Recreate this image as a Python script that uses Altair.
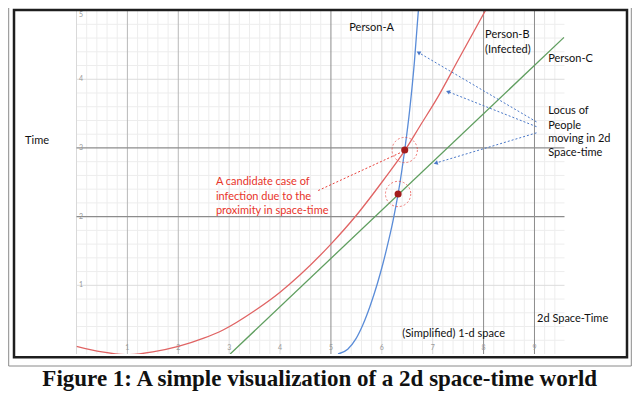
import altair as alt
import pandas as pd
import numpy as np

# ---------------- data ----------------
blue_x = [5.14, 5.33, 5.49, 5.63, 5.77, 5.91, 6.02, 6.12, 6.22, 6.32, 6.45, 6.55, 6.64, 6.72]
blue_y = [0.0, 0.07, 0.22, 0.43, 0.70, 1.02, 1.31, 1.61, 1.94, 2.33, 2.97, 3.57, 4.25, 5.02]

red_x = [0.0, 0.5, 1.0, 1.5, 2.0, 2.5, 2.88, 3.5, 4.0, 4.39, 5.0, 5.5, 6.03, 6.45, 6.75, 7.1, 7.5, 8.05]
red_y = [0.11, 0.03, -0.01, 0.03, 0.11, 0.23, 0.35, 0.63, 0.90, 1.15, 1.60, 2.02, 2.53, 2.96, 3.32, 3.74, 4.28, 5.02]

green_x = [3.02, 9.58]
green_y = [0.0, 4.61]

dot_x = [6.45, 6.32]
dot_y = [2.97, 2.33]

x_ticks = [1, 2, 3, 4, 5, 6, 7, 8, 9]
y_ticks = [1, 2, 3, 4, 5]
y_tick_pos = [1, 2, 3, 4, 4.93]

arrow_x1 = [9.04, 9.04, 9.04]
arrow_y1 = [3.38, 3.31, 3.22]
arrow_x2 = [6.72, 7.30, 7.06]
arrow_y2 = [4.39, 3.82, 2.78]
arrow_angle = [300, 292, 253]

leader_x = [4.75, 6.39]
leader_y = [2.38, 2.94]

black_labels = ["Person-A", "Person-B", "(Infected)", "Person-C", "Locus of", "People",
                "moving in 2d", "Space-time", "Time", "(Simplified) 1-d space", "2d Space-Time"]
black_x = [5.80, 8.03, 8.03, 9.27, 9.27, 9.27, 9.27, 9.27, -1.01, 7.41, 9.05]
black_y = [4.745, 4.64, 4.425, 4.30, 3.537, 3.319, 3.125, 2.921, 3.10, 0.291, 0.51]
black_align = ["center", "left", "left", "left", "left", "left", "left", "left", "left", "center", "left"]

red_labels = ["A candidate case of", "infection due to the", "proximity in space-time"]
red_lx = [2.74, 2.74, 2.74]
red_ly = [2.499, 2.281, 2.081]

title_text = "Figure 1: A simple visualization of a 2d space-time world"

# ---------------- grid positions ----------------
x_minor = [round(v, 1) for v in np.arange(0.2, 9.6, 0.2) if abs(v - round(v)) > 1e-6]
y_minor = [round(v, 1) for v in np.arange(0.2, 5.0, 0.2) if abs(v - round(v)) > 1e-6]
x_major_light = [0, 3, 4, 6, 7]
x_major_mid = [1, 2]
x_major_dark = [5, 8, 9]
y_major_light = [1, 4]
y_major_dark = [2, 3]

W, H = 488, 343.4
xs = alt.Scale(domain=[0, 9.59], nice=False, zero=False)
ys = alt.Scale(domain=[0, 5], nice=False, zero=False)


def vrules(vals, color, width=1.0):
    return alt.Chart(pd.DataFrame({"v": vals})).mark_rule(color=color, strokeWidth=width).encode(
        x=alt.X("v:Q", scale=xs, axis=None))


def hrules(vals, color, width=1.0):
    return alt.Chart(pd.DataFrame({"v": vals})).mark_rule(color=color, strokeWidth=width).encode(
        y=alt.Y("v:Q", scale=ys, axis=None))


def curve(xv, yv, color):
    return alt.Chart(pd.DataFrame({"x": xv, "y": yv})).mark_line(
        color=color, strokeWidth=1.3, clip=True, interpolate="monotone").encode(
        x=alt.X("x:Q", scale=xs, axis=None), y=alt.Y("y:Q", scale=ys, axis=None))


grid = [
    vrules(x_minor, "#ededed"), hrules(y_minor, "#ededed"),
    vrules(x_major_light, "#d9d9d9"), hrules(y_major_light, "#dcdcdc"),
    vrules(x_major_mid, "#b8b8b8"),
    vrules(x_major_dark, "#8c8c8c"), hrules(y_major_dark, "#8c8c8c", 1.2),
]

tick_x_df = pd.DataFrame({"v": x_ticks, "t": [str(v) for v in x_ticks], "y": [0.045] * len(x_ticks)})
tick_x = alt.Chart(tick_x_df).mark_text(fontSize=7, color="#9a9a9a", font="Lato", baseline="bottom").encode(
    x=alt.X("v:Q", scale=xs, axis=None), y=alt.Y("y:Q", scale=ys, axis=None), text="t:N")
tick_y_df = pd.DataFrame({"v": y_tick_pos, "t": [str(v) for v in y_ticks], "x": [0.05] * len(y_ticks)})
tick_y = alt.Chart(tick_y_df).mark_text(fontSize=7, color="#9a9a9a", font="Lato", align="left", baseline="middle").encode(
    x=alt.X("x:Q", scale=xs, axis=None), y=alt.Y("v:Q", scale=ys, axis=None), text="t:N")

lines = [curve(red_x, red_y, "#e06464"), curve(green_x, green_y, "#5f9e5f"), curve(blue_x, blue_y, "#5a8cd8")]

dots_df = pd.DataFrame({"x": dot_x, "y": dot_y})
rings = alt.Chart(dots_df).mark_point(shape="circle", size=640, color="#e8403a", strokeWidth=1,
                                      strokeDash=[2, 2], filled=False).encode(
    x=alt.X("x:Q", scale=xs, axis=None), y=alt.Y("y:Q", scale=ys, axis=None))
dots = alt.Chart(dots_df).mark_point(shape="circle", size=50, color="#a31d1d", filled=True, opacity=1).encode(
    x=alt.X("x:Q", scale=xs, axis=None), y=alt.Y("y:Q", scale=ys, axis=None))

leader = alt.Chart(pd.DataFrame({"x": [leader_x[0]], "y": [leader_y[0]], "x2": [leader_x[1]], "y2": [leader_y[1]]})).mark_rule(
    color="#e8403a", strokeWidth=1, strokeDash=[2, 2]).encode(
    x=alt.X("x:Q", scale=xs, axis=None), y=alt.Y("y:Q", scale=ys, axis=None), x2="x2:Q", y2="y2:Q")

arr_df = pd.DataFrame({"x": arrow_x1, "y": arrow_y1, "x2": arrow_x2, "y2": arrow_y2, "a": arrow_angle})
arrows = alt.Chart(arr_df).mark_rule(color="#4a78c8", strokeWidth=1, strokeDash=[2, 2]).encode(
    x=alt.X("x:Q", scale=xs, axis=None), y=alt.Y("y:Q", scale=ys, axis=None), x2="x2:Q", y2="y2:Q")
heads = alt.Chart(arr_df).mark_point(shape="triangle-up", size=22, filled=True, color="#4a78c8", opacity=1).encode(
    x=alt.X("x2:Q", scale=xs, axis=None), y=alt.Y("y2:Q", scale=ys, axis=None),
    angle=alt.Angle("a:Q", scale=None))

blk_df = pd.DataFrame({"t": black_labels, "x": black_x, "y": black_y, "al": black_align})
blk_left = alt.Chart(blk_df[blk_df.al == "left"]).mark_text(fontSize=11, font="Lato", color="#111111",
                                                          align="left", baseline="middle").encode(
    x=alt.X("x:Q", scale=xs, axis=None), y=alt.Y("y:Q", scale=ys, axis=None), text="t:N")
blk_center = alt.Chart(blk_df[blk_df.al == "center"]).mark_text(fontSize=11, font="Lato", color="#111111",
                                                              align="center", baseline="middle").encode(
    x=alt.X("x:Q", scale=xs, axis=None), y=alt.Y("y:Q", scale=ys, axis=None), text="t:N")
red_txt = alt.Chart(pd.DataFrame({"t": red_labels, "x": red_lx, "y": red_ly})).mark_text(
    fontSize=11, font="Lato", color="#e8342a", align="left", baseline="middle").encode(
    x=alt.X("x:Q", scale=xs, axis=None), y=alt.Y("y:Q", scale=ys, axis=None), text="t:N")

title = alt.Chart(pd.DataFrame({"t": [title_text], "x": [4.78], "y": [-0.46]})).mark_text(
    fontSize=23, font="Liberation Serif", fontWeight="bold", color="#111111", align="center",
    baseline="alphabetic").encode(
    x=alt.X("x:Q", scale=xs, axis=None), y=alt.Y("y:Q", scale=ys, axis=None), text="t:N")

# decorative frames (pixel positions in plot coordinates)
frame_df = pd.DataFrame({"k": [0]})
inner = alt.Chart(frame_df).mark_rect(fill="transparent", stroke="#1e1e1e", strokeWidth=2.5).encode(
    x=alt.value(-62.5), x2=alt.value(550.5), y=alt.value(-0.6), y2=alt.value(346.6))
outer_l = alt.Chart(frame_df).mark_rule(color="#8a8a8a", strokeWidth=1).encode(
    x=alt.value(-67.8), y=alt.value(-2.6), y2=alt.value(355.4))
outer_r = alt.Chart(frame_df).mark_rule(color="#8a8a8a", strokeWidth=1).encode(
    x=alt.value(554.8), y=alt.value(-2.6), y2=alt.value(355.4))
outer_b = alt.Chart(frame_df).mark_rule(color="#8a8a8a", strokeWidth=1).encode(
    x=alt.value(-67.8), x2=alt.value(554.8), y=alt.value(355.4))

chart = alt.layer(
    *grid, tick_x, tick_y, *lines, leader, arrows, heads, rings, dots,
    blk_left, blk_center, red_txt, title, inner, outer_l, outer_r, outer_b
).properties(
    width=W, height=H, autosize="none",
    padding={"left": 68.5, "top": 2.6, "right": 67.5, "bottom": 40}
).configure_view(stroke=None)

chart.save("out.html", embed_options={"renderer": "svg", "actions": False})
